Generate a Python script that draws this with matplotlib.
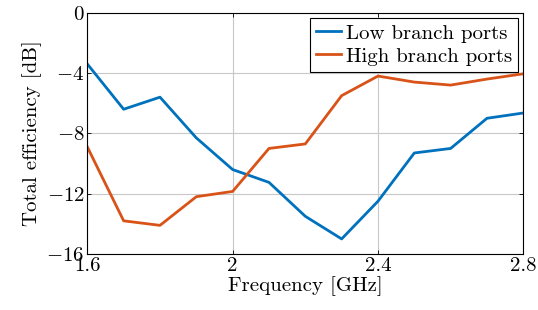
import numpy as np
import matplotlib
matplotlib.use('Agg')
import matplotlib.pyplot as plt

plt.rcParams['font.family'] = 'serif'
plt.rcParams['font.serif'] = ['cmr10']
plt.rcParams['mathtext.fontset'] = 'cm'
plt.rcParams['axes.formatter.use_mathtext'] = True

freq = [1.6, 1.7, 1.8, 1.9, 2.0, 2.1, 2.2, 2.3, 2.4, 2.5, 2.6, 2.7, 2.8]
low_branch = [-3.4, -6.4, -5.6, -8.3, -10.4, -11.25, -13.5, -15.0, -12.5, -9.3, -9.0, -7.0, -6.65]
high_branch = [-8.9, -13.8, -14.1, -12.2, -11.85, -9.0, -8.7, -5.5, -4.2, -4.6, -4.8, -4.4, -4.05]
xticks = [1.6, 2.0, 2.4, 2.8]
yticks = [0, -4, -8, -12, -16]

fig = plt.figure(figsize=(5.38, 3.10), dpi=100)
ax = fig.add_axes([0.1623, 0.1806, 0.8104, 0.7784])

ax.plot(freq, low_branch, color='#0072BD', lw=2.0, label='Low branch ports')
ax.plot(freq, high_branch, color='#D95319', lw=2.0, label='High branch ports')

ax.set_xlim(1.6, 2.8)
ax.set_ylim(-16, 0)
ax.set_xticks(xticks)
ax.set_xticklabels(['1.6', '2', '2.4', '2.8'])
ax.set_yticks(yticks)
ax.set_yticklabels(['$0$', '$-4$', '$-8$', '$-12$', '$-16$'])
ax.tick_params(direction='in', top=True, right=True, labelsize=15, length=3, width=0.6, pad=2)
ax.grid(True, color='#c8c8c8', lw=0.8)
ax.set_axisbelow(True)
for s in ax.spines.values():
    s.set_linewidth(0.8)

ax.set_xlabel('Frequency [GHz]', fontsize=15, labelpad=1)
ax.set_ylabel('Total efficiency [dB]', fontsize=15, labelpad=3)

leg = ax.legend(loc='upper right', fontsize=15, fancybox=False, edgecolor='black',
                framealpha=1, handlelength=1.2, handletextpad=0.2,
                borderpad=0.3, labelspacing=0.2, borderaxespad=0.25)
leg.get_frame().set_linewidth(0.8)

fig.savefig('out.png', dpi=100)
